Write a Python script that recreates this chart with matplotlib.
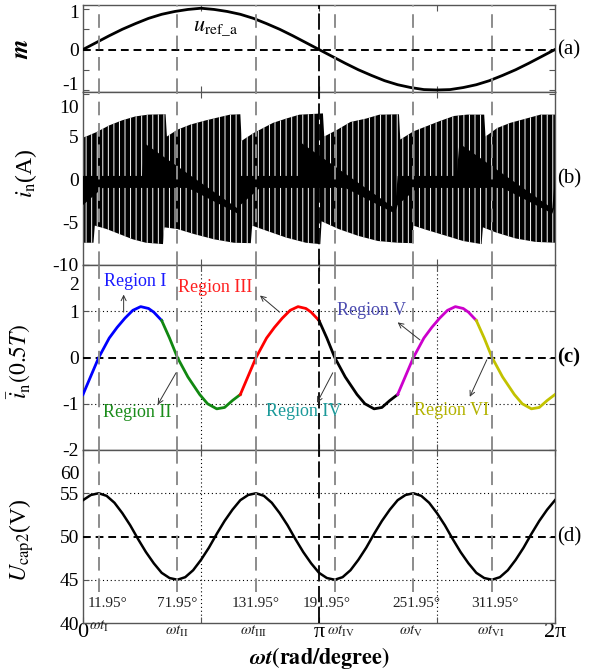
import numpy as np
import matplotlib.pyplot as plt
from matplotlib.transforms import blended_transform_factory

plt.rcParams['font.family'] = ['Liberation Serif', 'DejaVu Serif']
plt.rcParams['mathtext.fontset'] = 'stix'
plt.rcParams['hatch.linewidth'] = 0.7

DEG = np.pi / 180

# ---- data (angles in degrees) ----
# (a) modulation reference u_ref_a, every 10 degrees
m_deg = np.arange(0, 361, 10)
m_vals = [0, 0.17, 0.34, 0.50, 0.64, 0.77, 0.87, 0.94, 0.99, 1.02,
          0.99, 0.94, 0.87, 0.77, 0.64, 0.50, 0.34, 0.17, 0,
          -0.17, -0.34, -0.50, -0.64, -0.77, -0.87, -0.94, -0.99, -1.0,
          -0.99, -0.94, -0.87, -0.77, -0.64, -0.50, -0.34, -0.17, 0]

# (b) neutral current i_n: outer envelopes and the solid inner band
top_deg = [0, 10, 20, 30, 40, 50, 63, 64, 72, 82, 94, 105, 112, 120,
           121, 130, 145, 155, 165, 183, 184, 194, 204, 216, 226, 241,
           242, 252, 262, 272, 283, 293, 306, 307, 316, 326, 338, 349, 360]
top_vals = [4.85, 5.5, 6.3, 6.9, 7.35, 7.56, 7.6, 5.0, 5.8, 6.4, 6.9, 7.3, 7.55, 7.6,
            4.5, 5.4, 6.6, 7.1, 7.55, 7.7, 5.0, 5.8, 6.7, 7.1, 7.55, 7.6,
            4.65, 5.6, 6.2, 6.8, 7.4, 7.56, 7.56, 5.0, 6.0, 6.6, 7.1, 7.56, 7.56]
bot_deg = [0, 8, 9, 18, 28, 38, 48, 61, 62, 72, 85, 100, 115, 128,
           129, 140, 155, 170, 181, 182, 195, 210, 225, 240, 251,
           252, 262, 275, 290, 304, 305, 315, 330, 345, 360]
bot_vals = [-7.4, -7.4, -5.4, -5.8, -6.4, -7.0, -7.4, -7.56, -5.6, -5.8, -6.4, -7.0, -7.4, -7.45,
            -5.4, -6.0, -6.8, -7.4, -7.56, -4.9, -5.8, -6.6, -7.2, -7.4, -7.45,
            -5.4, -5.9, -6.5, -7.2, -7.56, -5.6, -6.2, -6.9, -7.3, -7.4]
core_top_deg = [0, 45, 47, 118, 120, 165, 167, 238, 240, 285, 287, 358, 360]
core_top_vals = [0.4, 0.4, 4.2, -3.4, 0.4, 0.4, 4.2, -3.4, 0.4, 0.4, 4.2, -3.4, 0.4]
core_bot_deg = [0, 15, 80, 118, 120, 135, 200, 238, 240, 255, 320, 358, 360]
core_bot_vals = [-3.0, -1.0, -1.0, -4.0, -3.0, -1.0, -1.0, -4.0, -3.0, -1.0, -1.0, -4.0, -3.0]

# (c) average neutral current over 0.5T, one 120-degree period
c_per_deg = np.array([0, 6, 12, 20, 26, 32, 38, 44, 50, 54, 60, 66, 72, 80, 89, 95, 102, 108, 114])
c_per_vals = np.array([-0.80, -0.40, 0, 0.42, 0.65, 0.85, 1.02, 1.10, 1.06, 0.98, 0.80,
                       0.42, 0, -0.42, -0.80, -1.0, -1.11, -1.08, -0.93])

# (d) capacitor voltage, one 120-degree period
d_per_deg = np.arange(0, 120, 6)
d_per_vals = np.array([54.2, 54.8, 55.0, 54.7, 53.9, 52.7, 51.3, 49.7, 48.2, 46.9,
                       45.8, 45.2, 45.0, 45.3, 46.1, 47.3, 48.7, 50.3, 51.8, 53.1])

region_deg = [11.95, 71.95, 131.95, 191.95, 251.95, 311.95]
region_names = ['Region I', 'Region II', 'Region III', 'Region IV', 'Region V', 'Region VI']
region_curve_colors = ['#0000ff', '#118811', '#ff0000', '#000000', '#cc00cc', '#c2c200']
region_text_colors = ['#1a1aff', '#1a8c1a', '#ff2020', '#1a9999', '#4b4bb0', '#b3b300']
wt_labels = [r'$\omega t_{\rm I}$', r'$\omega t_{\rm II}$', r'$\omega t_{\rm III}$',
             r'$\omega t_{\rm IV}$', r'$\omega t_{\rm V}$', r'$\omega t_{\rm VI}$']

# ---- figure ----
fig = plt.figure(figsize=(6.03, 6.70), dpi=100)
L, W = 83 / 603, 472 / 603


def box(top, bottom):
    return [L, 1 - bottom / 670, W, (bottom - top) / 670]


ax_a = fig.add_axes(box(5, 92))
ax_b = fig.add_axes(box(92, 265))
ax_c = fig.add_axes(box(265, 450))
ax_d = fig.add_axes(box(450, 623))
axes = [ax_a, ax_b, ax_c, ax_d]


def style(ax, ylim, yticks, ylabels, extra_labels=()):
    ax.set_xlim(0, 2 * np.pi)
    ax.set_ylim(*ylim)
    ax.set_xticks([np.pi / 2, np.pi, 1.5 * np.pi])
    ax.set_xticklabels([])
    ax.set_yticks(yticks, labels=ylabels)
    ax.tick_params(direction='in', length=4, width=0.8, color='#555555',
                   top=True, right=True, labelsize=14, pad=3)
    for s in ax.spines.values():
        s.set_color('#555555')
        s.set_linewidth(1.0)
    tr = blended_transform_factory(ax.transAxes, ax.transData)
    for y, s in extra_labels:
        ax.text(-0.008, y, s, transform=tr, ha='right', va='center', fontsize=14)


style(ax_a, (-1.05, 1.1), [-1, -0.5, 0, 0.5, 1], ['', '', '0', '', ''],
      [(0.9, '1'), (-0.88, '-1')])
style(ax_b, (-10, 10.2), [-10, -5, 0, 5, 10], ['-10', '-5', '0', '5', ''], [(8.3, '10')])
style(ax_c, (-2, 2), [-2, -1, 0, 1, 2], ['-2', '-1', '0', '1', ''], [(1.55, '2')])
style(ax_d, (40, 60), [40, 45, 50, 55, 60], ['40', '45', '50', '55', ''], [(57.2, '60')])

# vertical guide lines
for ax in axes:
    ymin = 0.18 if ax is ax_d else 0
    for d in region_deg:
        ax.axvline(d * DEG, ymin=ymin, color='#8c8c8c', lw=1.4, ls=(0, (7, 4)), zorder=8)
    ax.axvline(np.pi, color='k', lw=1.3, ls=(0, (9, 2.5)), zorder=8)
for ax in (ax_c, ax_d):
    for d in (90, 270):
        ax.axvline(d * DEG, color='k', lw=0.8, ls=(0, (1, 2.5)), zorder=1)

# (a)
ax_a.plot(m_deg * DEG, m_vals, color='k', lw=2.0, zorder=6)
ax_a.axhline(0, color='k', lw=1.4, ls=(0, (4, 2.5)), zorder=4)
ax_a.text(101 * DEG, 0.55, r'$u_{\rm ref\_a}$', fontsize=16, ha='center', va='center')
ax_a.set_ylabel(r'$\mathbfit{m}$', fontsize=18)

# (b)
env_x = np.concatenate([top_deg, bot_deg[::-1]]) * DEG
env_y = np.concatenate([top_vals, bot_vals[::-1]])
ax_b.fill(env_x, env_y, facecolor='k', edgecolor='white', hatch='|||', lw=0, zorder=2)
core_x = np.concatenate([core_top_deg, core_bot_deg[::-1]]) * DEG
core_y = np.concatenate([core_top_vals, core_bot_vals[::-1]])
ax_b.fill(core_x, core_y, color='k', lw=0, zorder=3)
ax_b.set_ylabel(r'$i_{\rm n}$(A)', fontsize=17)

# (c)
c_deg = np.concatenate([c_per_deg + 120 * k for k in range(3)] + [[360]])
c_vals = np.concatenate([c_per_vals] * 3 + [[c_per_vals[0]]])
for k in range(6):
    sel = (c_deg >= 60 * k) & (c_deg <= 60 * (k + 1))
    ax_c.plot(c_deg[sel] * DEG, c_vals[sel], color=region_curve_colors[k], lw=2.0, zorder=6)
ax_c.axhline(0, color='k', lw=1.4, ls=(0, (4, 2.5)), zorder=4)
for v in (1, -1):
    ax_c.axhline(v, color='k', lw=0.8, ls=(0, (1, 2.5)), zorder=1)

text_pos = [(39.5, 1.65), (41, -1.19), (100.5, 1.52), (168, -1.17), (220, 1.02), (281, -1.15)]
arrow_tail = [(31, 0.98), (71, -0.33), (150, 0.98), (190.5, -0.33), (257, 0.38), (308, -0.05)]
arrow_head = [(31, 1.36), (57, -1.02), (135, 1.34), (178.5, -0.98), (240, 0.76), (295, -0.85)]
for k in range(6):
    ax_c.text(text_pos[k][0] * DEG, text_pos[k][1], region_names[k], color=region_text_colors[k],
              fontsize=13, ha='center', va='center', zorder=9)
    ax_c.annotate('', xy=(arrow_head[k][0] * DEG, arrow_head[k][1]),
                  xytext=(arrow_tail[k][0] * DEG, arrow_tail[k][1]),
                  arrowprops=dict(arrowstyle='->', lw=0.7, color='#333333',
                                  shrinkA=0, shrinkB=0, mutation_scale=9), zorder=9)
ax_c.set_ylabel(r'$\bar{i}_{\rm n}(0.5T)$', fontsize=17)
ax_c.text(1.005, 0, '(c)', transform=blended_transform_factory(ax_c.transAxes, ax_c.transData),
          fontsize=15, fontweight='bold', va='center', ha='left')

# (d)
d_deg = np.concatenate([d_per_deg + 120 * k for k in range(3)] + [[360]])
d_vals = np.concatenate([d_per_vals] * 3 + [[d_per_vals[0]]])
ax_d.plot(d_deg * DEG, d_vals, color='k', lw=1.8, zorder=6)
ax_d.axhline(50, color='k', lw=1.4, ls=(0, (4, 2.5)), zorder=4)
for v in (45, 55):
    ax_d.axhline(v, color='k', lw=0.8, ls=(0, (1, 2.5)), zorder=1)
ax_d.set_ylabel(r'$U_{\rm cap2}$(V)', fontsize=17)

deg_offsets = [7, 0, 0, -6, 2, 2]
tr_d = blended_transform_factory(ax_d.transData, ax_d.transAxes)
wt_offsets = [0, 0, -2, 5, -2, -1]
wt_y = [-0.02, -0.05, -0.05, -0.05, -0.05, -0.05]
for k, d in enumerate(region_deg):
    ax_d.text((d + deg_offsets[k]) * DEG, 42.3, '%.2f°' % d, fontsize=11, color='#222222',
              ha='center', va='center', zorder=9)
    ax_d.text((d + wt_offsets[k]) * DEG, wt_y[k], wt_labels[k], transform=tr_d, fontsize=11,
              color='#222222', ha='center', va='center')

ax_d.set_xticks([0, np.pi / 2, np.pi, 1.5 * np.pi, 2 * np.pi])
ax_d.set_xticklabels(['0', '', 'π', '', '2π'], fontsize=16)
ax_d.tick_params(axis='x', pad=0)

for ax, lab, zero in ((ax_a, '(a)', 0), (ax_b, '(b)', 0), (ax_d, '(d)', 50)):
    ax.text(1.005, zero, lab, transform=blended_transform_factory(ax.transAxes, ax.transData),
            fontsize=15, va='center', ha='left')

ylab_x = {ax_a: -0.105, ax_b: -0.093, ax_c: -0.105, ax_d: -0.1}
ylab_y = {ax_a: 0.5, ax_b: 0.53, ax_c: 0.48, ax_d: 0.48}
for ax in axes:
    ax.yaxis.set_label_coords(ylab_x[ax], ylab_y[ax])

fig.text(0.53, 0.018, r'$\mathbfit{\omega t}\mathbf{(rad/degree)}$', fontsize=16,
         ha='center', va='center')

fig.savefig('out.png', dpi=100)
